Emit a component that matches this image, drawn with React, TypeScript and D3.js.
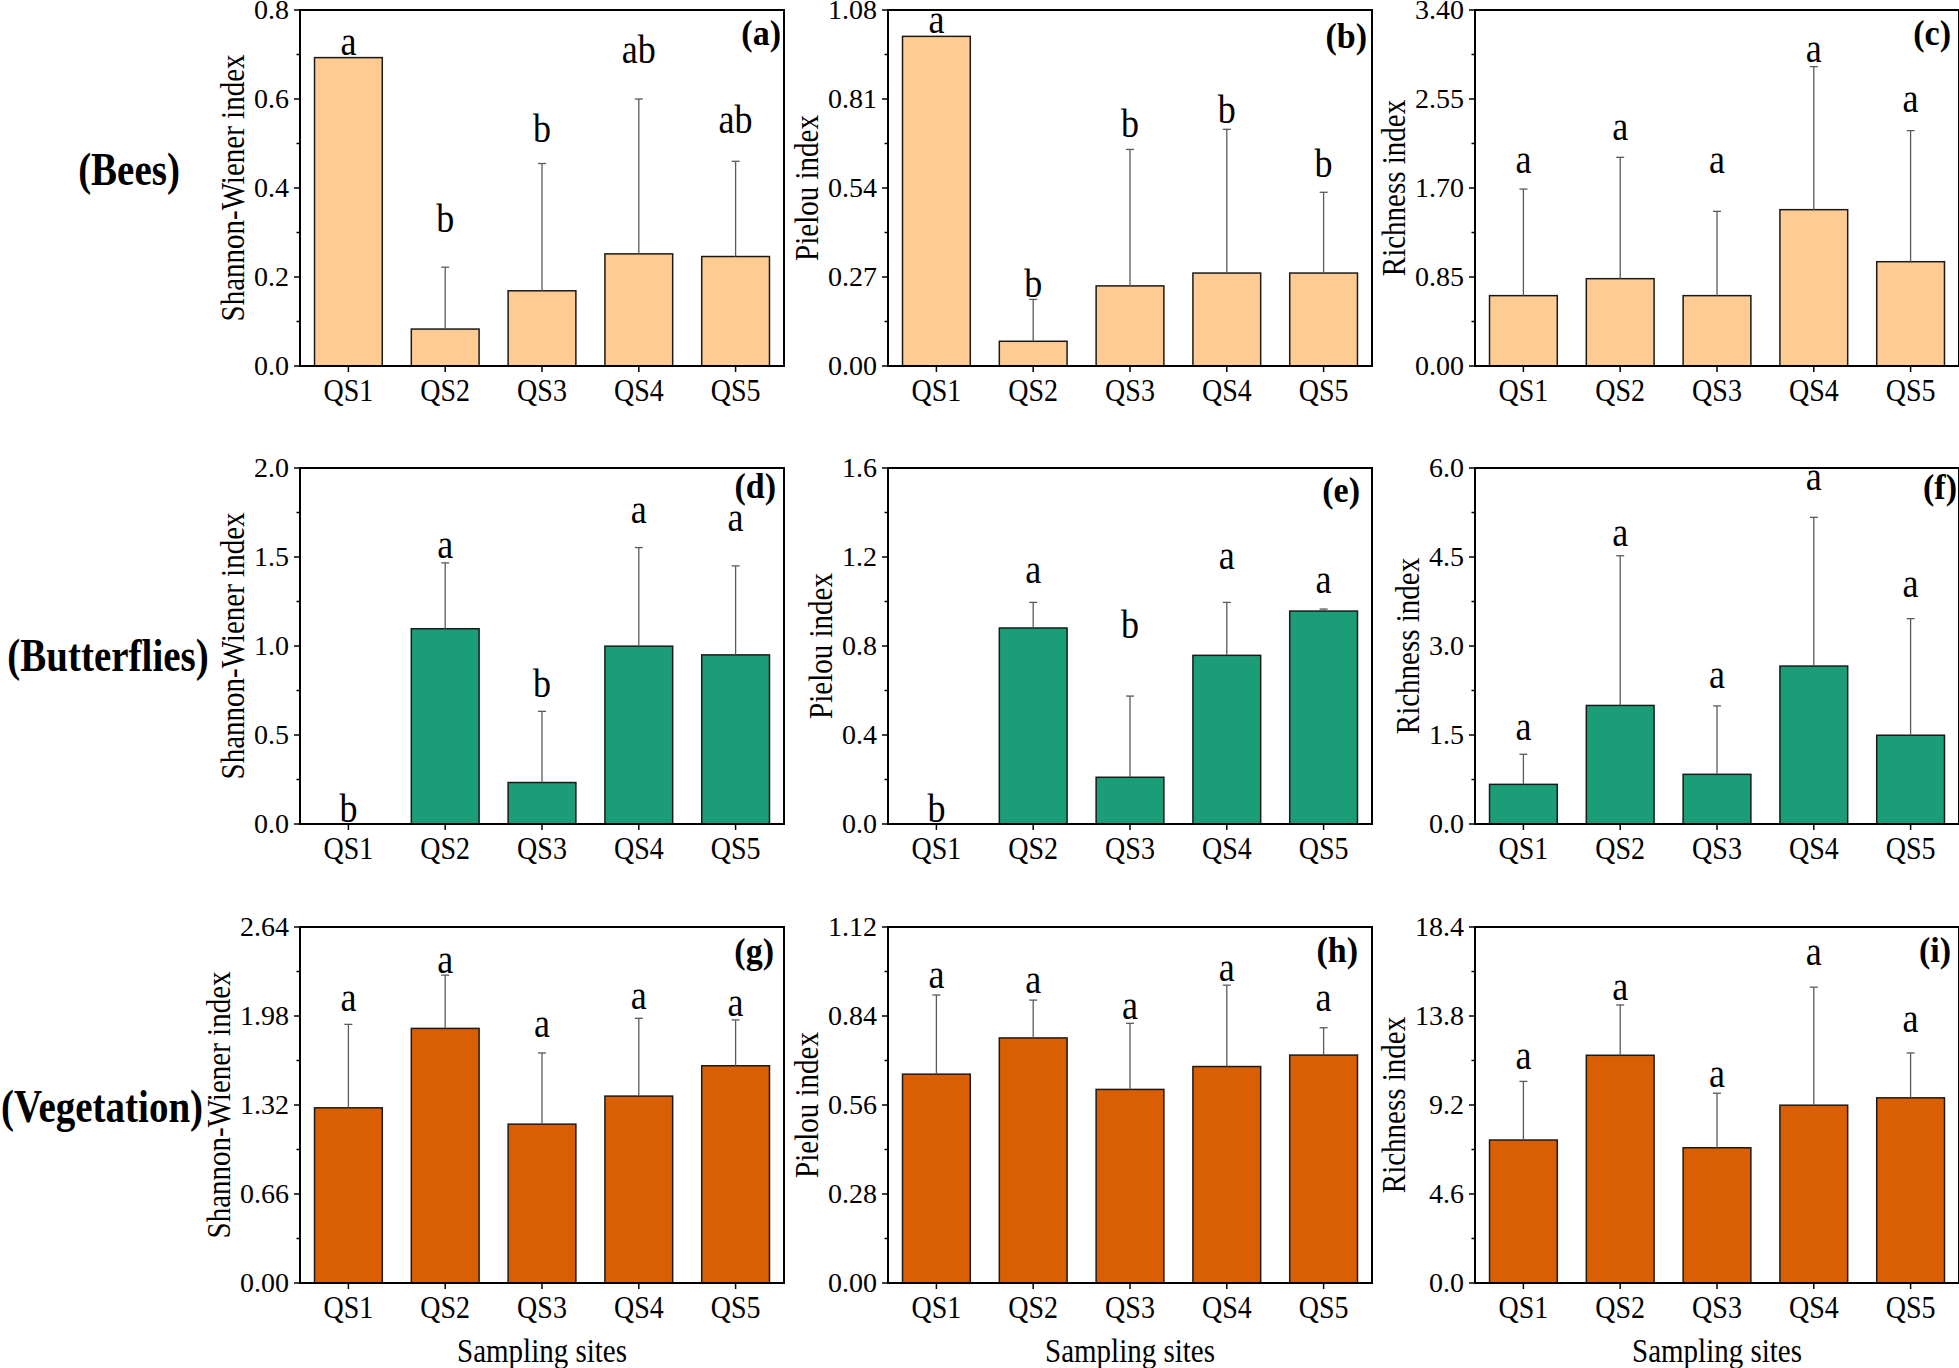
import React, { useEffect, useRef } from "react";
import * as d3 from "d3";

// ---------- data ----------
const sites = ["QS1", "QS2", "QS3", "QS4", "QS5"];
const groupNames = ["(Bees)", "(Butterflies)", "(Vegetation)"];
const indexTitles = ["Shannon-Wiener index", "Pielou index", "Richness index"];
const panelTags = ["(a)", "(b)", "(c)", "(d)", "(e)", "(f)", "(g)", "(h)", "(i)"];
const groupColors = ["#FECC92", "#1B9E77", "#D95F02"];
const axisMaxima = [0.8, 1.08, 3.4, 2.0, 1.6, 6.0, 2.64, 1.12, 18.4];
const tickDecimals = [1, 2, 2, 1, 1, 1, 2, 2, 1];
const xAxisTitle = "Sampling sites";

// (a) Bees – Shannon-Wiener
const meanA = [0.693, 0.083, 0.169, 0.252, 0.246];
const sdA = [0, 0.139, 0.286, 0.348, 0.214];
const lettersA = ["a", "b", "b", "ab", "ab"];
const letterAtA = [0.699, 0.301, 0.503, 0.681, 0.524];
// (b) Bees – Pielou
const meanB = [1.0, 0.075, 0.243, 0.282, 0.282];
const sdB = [0, 0.127, 0.414, 0.436, 0.245];
const lettersB = ["a", "b", "b", "b", "b"];
const letterAtB = [1.01, 0.209, 0.695, 0.737, 0.573];
// (c) Bees – Richness
const meanC = [0.672, 0.834, 0.672, 1.493, 0.996];
const sdC = [1.018, 1.159, 0.805, 1.366, 1.252];
const lettersC = ["a", "a", "a", "a", "a"];
const letterAtC = [1.843, 2.159, 1.843, 2.904, 2.426];
// (d) Butterflies – Shannon-Wiener
const meanD = [0, 1.097, 0.233, 0.999, 0.95];
const sdD = [0, 0.37, 0.4, 0.554, 0.5];
const lettersD = ["b", "a", "b", "a", "a"];
const letterAtD = [0.01, 1.497, 0.715, 1.692, 1.647];
// (e) Butterflies – Pielou
const meanE = [0, 0.881, 0.21, 0.758, 0.957];
const sdE = [0, 0.115, 0.365, 0.238, 0.009];
const lettersE = ["b", "a", "b", "a", "a"];
const letterAtE = [0.01, 1.082, 0.834, 1.145, 1.039];
// (f) Butterflies – Richness
const meanF = [0.668, 1.998, 0.837, 2.662, 1.496];
const sdF = [0.507, 2.523, 1.153, 2.506, 1.965];
const lettersF = ["a", "a", "a", "a", "a"];
const letterAtF = [1.411, 4.69, 2.285, 5.636, 3.833];
// (g) Vegetation – Shannon-Wiener
const meanG = [1.299, 1.888, 1.178, 1.386, 1.611];
const sdG = [0.619, 0.395, 0.528, 0.577, 0.34];
const lettersG = ["a", "a", "a", "a", "a"];
const letterAtG = [2.02, 2.297, 1.822, 2.033, 1.983];
// (h) Vegetation – Pielou
const meanH = [0.657, 0.771, 0.609, 0.681, 0.717];
const sdH = [0.249, 0.119, 0.208, 0.256, 0.086];
const lettersH = ["a", "a", "a", "a", "a"];
const letterAtH = [0.927, 0.911, 0.832, 0.95, 0.856];
// (i) Vegetation – Richness
const meanI = [7.39, 11.77, 6.99, 9.19, 9.57];
const sdI = [3.03, 2.6, 2.82, 6.1, 2.32];
const lettersI = ["a", "a", "a", "a", "a"];
const letterAtI = [11.08, 14.63, 10.12, 16.44, 12.98];

const panelMeans = [meanA, meanB, meanC, meanD, meanE, meanF, meanG, meanH, meanI];
const panelSDs = [sdA, sdB, sdC, sdD, sdE, sdF, sdG, sdH, sdI];
const panelLetters = [lettersA, lettersB, lettersC, lettersD, lettersE, lettersF, lettersG, lettersH, lettersI];
const panelLetterAt = [letterAtA, letterAtB, letterAtC, letterAtD, letterAtE, letterAtF, letterAtG, letterAtH, letterAtI];

// ---------- layout ----------
const W = 1959;
const H = 1368;
const colLeft = [300, 888, 1475];
const rowTop = [10, 468, 927];
const PW = 484;
const PH = 356;
const rowLabelX = [129, 108, 102];
const rowLabelDY = [175, 203, 195];
const tagRightInset = [3, 5, 8, 8, 12, 2, 10, 14, 8];
const tagBaseline = [35, 38, 35, 30, 34, 31, 36, 35, 35];
const FONT = "'Liberation Serif', 'Times New Roman', 'DejaVu Serif', serif";
const STRETCH = 1.15;

export default function App() {
  const ref = useRef<SVGSVGElement | null>(null);

  useEffect(() => {
    const svg = d3.select(ref.current);
    svg.selectAll("*").remove();
    svg.append("rect").attr("width", W).attr("height", H).attr("fill", "#fff");

    const addText = (
      parent: d3.Selection<any, unknown, null, undefined>,
      x: number,
      y: number,
      txt: string,
      size: number,
      opts: { anchor?: string; bold?: boolean; rotate?: boolean; stretch?: number; dy?: string } = {}
    ) => {
      const s = opts.stretch ?? STRETCH;
      const t = parent
        .append("text")
        .attr(
          "transform",
          `translate(${x},${y})${opts.rotate ? " rotate(-90)" : ""} scale(1,${s})`
        )
        .attr("text-anchor", opts.anchor ?? "middle")
        .attr("font-family", FONT)
        .attr("font-size", size)
        .attr("fill", "#000")
        .text(txt);
      if (opts.bold) t.attr("font-weight", "bold");
      if (opts.dy) t.attr("dy", opts.dy);
      return t;
    };

    for (let p = 0; p < 9; p++) {
      const row = Math.floor(p / 3);
      const col = p % 3;
      const L = colLeft[col];
      const T = rowTop[row];
      const g = svg.append("g");

      const x = d3.scaleBand<string>().domain(sites).range([L, L + PW]).paddingInner(0.3).paddingOuter(0.15);
      const y = d3.scaleLinear().domain([0, axisMaxima[p]]).range([T + PH, T]);
      const mean = panelMeans[p];
      const sd = panelSDs[p];
      const bw = x.bandwidth();

      // bars
      sites.forEach((s, i) => {
        if (mean[i] <= 0) return;
        g.append("rect")
          .attr("x", x(s)!)
          .attr("y", y(mean[i]))
          .attr("width", bw)
          .attr("height", y(0) - y(mean[i]))
          .attr("fill", groupColors[row])
          .attr("stroke", "#1a1a1a")
          .attr("stroke-width", 1.5);
      });

      // error bars (upper only)
      sites.forEach((s, i) => {
        if (sd[i] <= 0) return;
        const cx = x(s)! + bw / 2;
        g.append("line")
          .attr("x1", cx).attr("x2", cx)
          .attr("y1", y(mean[i])).attr("y2", y(mean[i] + sd[i]))
          .attr("stroke", "#5a5a5a").attr("stroke-width", 1.3);
        g.append("line")
          .attr("x1", cx - 4).attr("x2", cx + 4)
          .attr("y1", y(mean[i] + sd[i])).attr("y2", y(mean[i] + sd[i]))
          .attr("stroke", "#5a5a5a").attr("stroke-width", 1.3);
      });

      // significance letters
      sites.forEach((s, i) => {
        addText(g, x(s)! + bw / 2, y(panelLetterAt[p][i]), panelLetters[p][i], 36, { stretch: 1.1 });
      });

      // frame
      g.append("rect")
        .attr("x", L).attr("y", T).attr("width", PW).attr("height", PH)
        .attr("fill", "none").attr("stroke", "#000").attr("stroke-width", 2);

      // y ticks
      const maxV = axisMaxima[p];
      const majors = d3.range(0, 5).map((k) => (maxV * k) / 4);
      const minors = d3.range(0, 4).map((k) => (maxV * (k + 0.5)) / 4);
      const fmt = d3.format(`.${tickDecimals[p]}f`);
      majors.forEach((v) => {
        g.append("line").attr("x1", L - 6).attr("x2", L).attr("y1", y(v)).attr("y2", y(v))
          .attr("stroke", "#000").attr("stroke-width", 1.5);
      });
      minors.forEach((v) => {
        g.append("line").attr("x1", L - 3.5).attr("x2", L).attr("y1", y(v)).attr("y2", y(v))
          .attr("stroke", "#000").attr("stroke-width", 1.5);
      });
      const labelG = g.append("g");
      majors.forEach((v) => {
        addText(labelG, L - 11, y(v), fmt(v), 28, { anchor: "end", dy: "0.33em", stretch: 1.0 });
      });
      let maxW = 0;
      labelG.selectAll<SVGTextElement, unknown>("text").each(function () {
        maxW = Math.max(maxW, this.getBBox().width);
      });

      // y title
      addText(g, L - 11 - maxW - 10, T + PH / 2, indexTitles[col], 29, { rotate: true });

      // x ticks + labels
      sites.forEach((s) => {
        const cx = x(s)! + bw / 2;
        g.append("line").attr("x1", cx).attr("x2", cx).attr("y1", T + PH).attr("y2", T + PH + 6)
          .attr("stroke", "#000").attr("stroke-width", 1.5);
        addText(g, cx, T + PH + 35, s, 28);
      });

      // panel tag
      addText(g, L + PW - tagRightInset[p], T + tagBaseline[p], panelTags[p], 34, {
        anchor: "end",
        bold: true,
        stretch: 1.05,
      });

      // x axis title (bottom row)
      if (row === 2) {
        addText(g, L + PW / 2, T + PH + 79, xAxisTitle, 29);
      }
    }

    // row labels
    groupNames.forEach((name, r) => {
      addText(svg, rowLabelX[r], rowTop[r] + rowLabelDY[r], name, 39, { bold: true, stretch: 1.2 });
    });
  }, []);

  return (
    <svg
      ref={ref}
      width={W}
      height={H}
      style={{ position: "absolute", left: 0, top: 0, display: "block" }}
    />
  );
}
